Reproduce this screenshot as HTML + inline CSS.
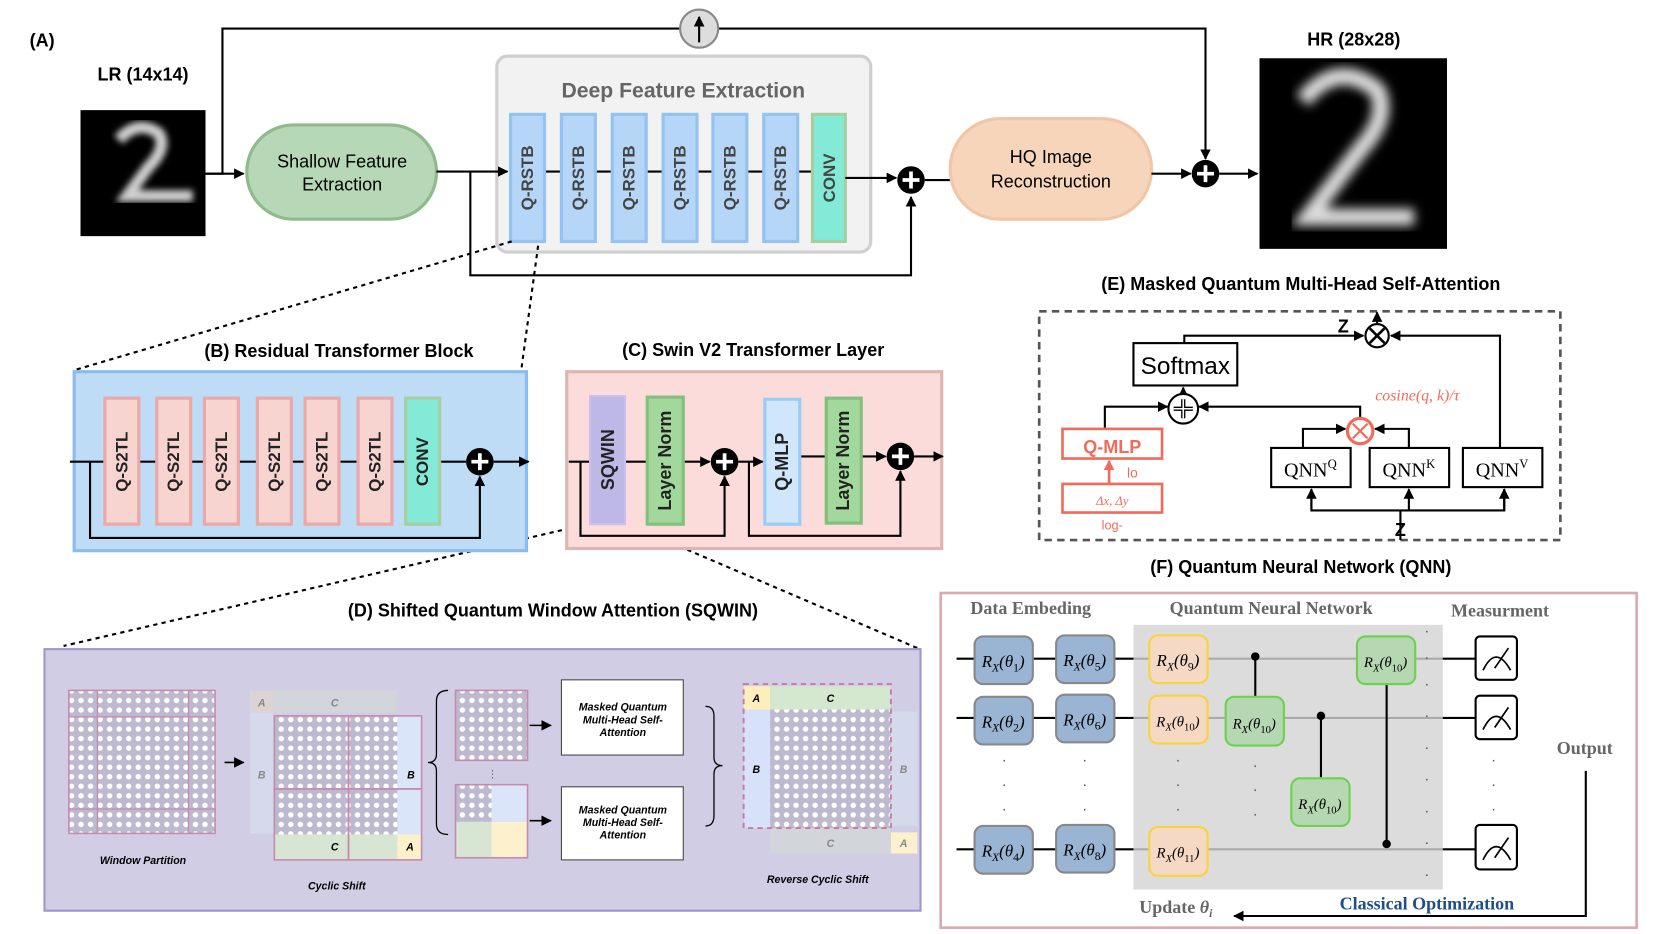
<!DOCTYPE html>
<html><head><meta charset="utf-8"><style>
html,body{margin:0;padding:0;background:#fff;}
svg{display:block;font-family:"Liberation Sans",sans-serif;}
.b{font-weight:bold;}
.ser{font-family:"Liberation Serif",serif;}
</style></head><body>
<svg width="1661" height="934" viewBox="0 0 1568 882" preserveAspectRatio="none" xmlns="http://www.w3.org/2000/svg">
<defs>
<marker id="ar" markerWidth="10" markerHeight="10" refX="9" refY="5" orient="auto" markerUnits="userSpaceOnUse"><path d="M0,0 L10,5 L0,10 z" fill="#000"/></marker>
<marker id="arr" markerWidth="10" markerHeight="10" refX="9" refY="5" orient="auto" markerUnits="userSpaceOnUse"><path d="M0,0 L10,5 L0,10 z" fill="#f26b5a"/></marker>
<filter id="bl"><feGaussianBlur stdDeviation="5"/></filter>
<filter id="bl2"><feGaussianBlur stdDeviation="3"/></filter>
<pattern id="dots" width="9" height="9" patternUnits="userSpaceOnUse"><rect width="9" height="9" fill="#bdb9cf"/><circle cx="4.5" cy="4.5" r="2.6" fill="#fff"/></pattern>
</defs>

<!-- (A) -->
<text x="28" y="44" class="b" font-size="17">(A)</text>
<text x="135" y="76" class="b" font-size="17" text-anchor="middle">LR (14x14)</text>
<rect x="76" y="104" width="118" height="119" fill="#000"/>
<path d="M112,132 Q130,112 150,126 Q158,140 140,158 L120,185 L182,185" stroke="#cfcfcf" stroke-width="11" fill="none" filter="url(#bl2)"/>
<text x="1278" y="43" class="b" font-size="17" text-anchor="middle">HR (28x28)</text>
<rect x="1189" y="55" width="177" height="180" fill="#000"/>
<path d="M1230,95 Q1262,55 1300,85 Q1312,110 1285,140 L1235,205 L1335,205" stroke="#dcdcdc" stroke-width="16" fill="none" filter="url(#bl)"/>

<polyline points="194,164 210,164 210,27 1138,27 1138,150" fill="none" stroke="#000" stroke-width="2" marker-end="url(#ar)"/>
<circle cx="660" cy="27" r="18" fill="#ddd" stroke="#888" stroke-width="2"/>
<line x1="660" y1="40" x2="660" y2="16" stroke="#000" stroke-width="2" marker-end="url(#ar)"/>
<line x1="194" y1="164" x2="230" y2="164" stroke="#000" stroke-width="2" marker-end="url(#ar)"/>
<rect x="233" y="118" width="179" height="89" rx="44" fill="#b6d8b6" stroke="#8fba8c" stroke-width="3"/>
<text x="323" y="158" font-size="17" text-anchor="middle">Shallow Feature</text>
<text x="323" y="180" font-size="17" text-anchor="middle">Extraction</text>

<rect x="469" y="53" width="353" height="185" rx="10" fill="#f2f2f2" stroke="#cfcfcf" stroke-width="3"/>
<text x="645" y="92" class="b" font-size="20" fill="#666" text-anchor="middle">Deep Feature Extraction</text>
<line x1="412" y1="162" x2="479" y2="162" stroke="#000" stroke-width="2" marker-end="url(#ar)"/>
<polyline points="444,162 444,260 860,260 860,186" fill="none" stroke="#000" stroke-width="2" marker-end="url(#ar)"/>
<line x1="514" y1="162" x2="767" y2="162" stroke="#000" stroke-width="2"/>
<g font-size="16" class="b" fill="#444">
<rect x="482" y="108" width="32" height="120" fill="#b5d6f7" stroke="#93c3f2" stroke-width="3"/><text transform="translate(498,168) rotate(-90)" text-anchor="middle" dominant-baseline="central">Q-RSTB</text>
<rect x="530" y="108" width="32" height="120" fill="#b5d6f7" stroke="#93c3f2" stroke-width="3"/><text transform="translate(546,168) rotate(-90)" text-anchor="middle" dominant-baseline="central">Q-RSTB</text>
<rect x="578" y="108" width="32" height="120" fill="#b5d6f7" stroke="#93c3f2" stroke-width="3"/><text transform="translate(594,168) rotate(-90)" text-anchor="middle" dominant-baseline="central">Q-RSTB</text>
<rect x="626" y="108" width="32" height="120" fill="#b5d6f7" stroke="#93c3f2" stroke-width="3"/><text transform="translate(642,168) rotate(-90)" text-anchor="middle" dominant-baseline="central">Q-RSTB</text>
<rect x="673" y="108" width="32" height="120" fill="#b5d6f7" stroke="#93c3f2" stroke-width="3"/><text transform="translate(689,168) rotate(-90)" text-anchor="middle" dominant-baseline="central">Q-RSTB</text>
<rect x="721" y="108" width="32" height="120" fill="#b5d6f7" stroke="#93c3f2" stroke-width="3"/><text transform="translate(737,168) rotate(-90)" text-anchor="middle" dominant-baseline="central">Q-RSTB</text>
<rect x="767" y="108" width="31" height="120" fill="#84ead8" stroke="#a6cfa0" stroke-width="3"/><text transform="translate(783,168) rotate(-90)" text-anchor="middle" dominant-baseline="central">CONV</text>
</g>
<line x1="798" y1="168" x2="846" y2="168" stroke="#000" stroke-width="2" marker-end="url(#ar)"/>
<circle cx="860" cy="170" r="13" fill="#000"/><path d="M852,170 H868 M860,162 V178" stroke="#fff" stroke-width="3.5"/>
<line x1="873" y1="170" x2="897" y2="170" stroke="#000" stroke-width="2"/>
<rect x="897" y="112" width="190" height="95" rx="47" fill="#f6d5bb" stroke="#f0c6a6" stroke-width="3"/>
<text x="992" y="154" font-size="17" text-anchor="middle">HQ Image</text>
<text x="992" y="177" font-size="17" text-anchor="middle">Reconstruction</text>
<line x1="1087" y1="164" x2="1124" y2="164" stroke="#000" stroke-width="2" marker-end="url(#ar)"/>
<circle cx="1138" cy="164" r="13" fill="#000"/><path d="M1130,164 H1146 M1138,156 V172" stroke="#fff" stroke-width="3.5"/>
<line x1="1151" y1="164" x2="1187" y2="164" stroke="#000" stroke-width="2" marker-end="url(#ar)"/>

<!-- dashed zoom lines -->
<line x1="483" y1="228" x2="72" y2="349" stroke="#000" stroke-width="2" stroke-dasharray="4,4"/>
<line x1="508" y1="232" x2="492" y2="350" stroke="#000" stroke-width="2" stroke-dasharray="4,4"/>
<line x1="546" y1="497" x2="60" y2="610" stroke="#000" stroke-width="2" stroke-dasharray="4,4"/>
<line x1="590" y1="494" x2="866" y2="612" stroke="#000" stroke-width="2" stroke-dasharray="4,4"/>

<!-- (B) -->
<text x="320" y="337" class="b" font-size="17" text-anchor="middle">(B) Residual Transformer Block</text>
<rect x="70" y="351" width="427" height="169" fill="#bfdcf6" stroke="#8cbbef" stroke-width="3"/>
<line x1="66" y1="436" x2="440" y2="436" stroke="#000" stroke-width="2"/>
<line x1="466" y1="436" x2="499" y2="436" stroke="#000" stroke-width="2" marker-end="url(#ar)"/>
<polyline points="85,436 85,508 453,508 453,450" fill="none" stroke="#000" stroke-width="2" marker-end="url(#ar)"/>
<g font-size="16" class="b" fill="#222">
<rect x="99" y="376" width="32" height="119" fill="#f8d4d0" stroke="#eaa8a8" stroke-width="3"/><text transform="translate(115,436) rotate(-90)" text-anchor="middle" dominant-baseline="central">Q-S2TL</text>
<rect x="148" y="376" width="32" height="119" fill="#f8d4d0" stroke="#eaa8a8" stroke-width="3"/><text transform="translate(164,436) rotate(-90)" text-anchor="middle" dominant-baseline="central">Q-S2TL</text>
<rect x="193" y="376" width="32" height="119" fill="#f8d4d0" stroke="#eaa8a8" stroke-width="3"/><text transform="translate(209,436) rotate(-90)" text-anchor="middle" dominant-baseline="central">Q-S2TL</text>
<rect x="243" y="376" width="32" height="119" fill="#f8d4d0" stroke="#eaa8a8" stroke-width="3"/><text transform="translate(259,436) rotate(-90)" text-anchor="middle" dominant-baseline="central">Q-S2TL</text>
<rect x="288" y="376" width="32" height="119" fill="#f8d4d0" stroke="#eaa8a8" stroke-width="3"/><text transform="translate(304,436) rotate(-90)" text-anchor="middle" dominant-baseline="central">Q-S2TL</text>
<rect x="338" y="376" width="32" height="119" fill="#f8d4d0" stroke="#eaa8a8" stroke-width="3"/><text transform="translate(354,436) rotate(-90)" text-anchor="middle" dominant-baseline="central">Q-S2TL</text>
<rect x="383" y="376" width="32" height="119" fill="#84ead8" stroke="#a6cfa0" stroke-width="3"/><text transform="translate(399,436) rotate(-90)" text-anchor="middle" dominant-baseline="central">CONV</text>
</g>
<circle cx="453" cy="436" r="13" fill="#000"/><path d="M445,436 H461 M453,428 V444" stroke="#fff" stroke-width="3.5"/>

<!-- (C) -->
<text x="711" y="336" class="b" font-size="17" text-anchor="middle">(C) Swin V2 Transformer Layer</text>
<rect x="535" y="351" width="354" height="167" fill="#fbdcda" stroke="#dcb6b2" stroke-width="3"/>
<line x1="537" y1="436" x2="670" y2="436" stroke="#000" stroke-width="2" marker-end="url(#ar)"/>
<polyline points="548,436 548,506 684,506 684,450" fill="none" stroke="#000" stroke-width="2" marker-end="url(#ar)"/>
<line x1="697" y1="436" x2="720" y2="436" stroke="#000" stroke-width="2" marker-end="url(#ar)"/>
<polyline points="707,436 707,506 850,506 850,445" fill="none" stroke="#000" stroke-width="2" marker-end="url(#ar)"/>
<line x1="755" y1="431" x2="836" y2="431" stroke="#000" stroke-width="2" marker-end="url(#ar)"/>
<line x1="863" y1="431" x2="890" y2="431" stroke="#000" stroke-width="2" marker-end="url(#ar)"/>
<g font-size="17" class="b" fill="#222">
<rect x="557" y="374" width="33" height="121" fill="#bdb8e6" stroke="#cbbff0" stroke-width="2"/><text transform="translate(574,434) rotate(-90)" text-anchor="middle" dominant-baseline="central">SQWIN</text>
<rect x="611" y="375" width="34" height="120" fill="#a3d89d" stroke="#84bf7e" stroke-width="3"/><text transform="translate(628,435) rotate(-90)" text-anchor="middle" dominant-baseline="central">Layer Norm</text>
<rect x="722" y="377" width="33" height="118" fill="#cfe6fb" stroke="#9ccbf5" stroke-width="3"/><text transform="translate(738,436) rotate(-90)" text-anchor="middle" dominant-baseline="central">Q-MLP</text>
<rect x="780" y="376" width="33" height="118" fill="#a3d89d" stroke="#84bf7e" stroke-width="3"/><text transform="translate(796,435) rotate(-90)" text-anchor="middle" dominant-baseline="central">Layer Norm</text>
</g>
<circle cx="684" cy="436" r="13" fill="#000"/><path d="M676,436 H692 M684,428 V444" stroke="#fff" stroke-width="3.5"/>
<circle cx="850" cy="431" r="13" fill="#000"/><path d="M842,431 H858 M850,423 V439" stroke="#fff" stroke-width="3.5"/>

<!-- (D) -->
<text x="522" y="582" class="b" font-size="17" text-anchor="middle">(D) Shifted Quantum Window Attention (SQWIN)</text>
<rect x="42" y="613" width="827" height="247" fill="#d0cde4" stroke="#9e98ca" stroke-width="2"/>
<rect x="65" y="652" width="138" height="135" fill="url(#dots)" stroke="#c78aae" stroke-width="1.5"/>
<path d="M92,652 V787 M178,652 V787 M65,677 H203 M65,764 H203" stroke="#c78aae" stroke-width="1.2" fill="none"/>
<text x="135" y="816" font-size="10" font-style="italic" class="b" text-anchor="middle">Window Partition</text>
<line x1="212" y1="720" x2="230" y2="720" stroke="#000" stroke-width="1.5" marker-end="url(#ar)"/>
<rect x="236" y="652" width="22" height="21" fill="#ddd3d3"/><text x="247" y="667" font-size="10" class="b" font-style="italic" fill="#888" text-anchor="middle">A</text>
<rect x="258" y="652" width="117" height="21" fill="#d2d5da"/><text x="316" y="667" font-size="10" class="b" font-style="italic" fill="#888" text-anchor="middle">C</text>
<rect x="236" y="673" width="22" height="114" fill="#d5d9ec"/><text x="247" y="735" font-size="10" class="b" font-style="italic" fill="#888" text-anchor="middle">B</text>
<rect x="259" y="676" width="139" height="136" fill="url(#dots)"/>
<rect x="375" y="676" width="23" height="112" fill="#dbe5fa"/>
<rect x="259" y="788" width="116" height="24" fill="#d6e6d3"/>
<rect x="375" y="788" width="23" height="24" fill="#fdf0cc"/>
<rect x="259" y="676" width="70" height="69" fill="none" stroke="#c78aae" stroke-width="1.5"/>
<rect x="329" y="676" width="69" height="69" fill="none" stroke="#c78aae" stroke-width="1.5"/>
<rect x="259" y="745" width="70" height="67" fill="none" stroke="#c78aae" stroke-width="1.5"/>
<rect x="329" y="745" width="69" height="67" fill="none" stroke="#c78aae" stroke-width="1.5"/>
<text x="388" y="735" font-size="10" class="b" font-style="italic" text-anchor="middle">B</text>
<text x="316" y="803" font-size="10" class="b" font-style="italic" text-anchor="middle">C</text>
<text x="387" y="803" font-size="10" class="b" font-style="italic" text-anchor="middle">A</text>
<text x="318" y="840" font-size="10" font-style="italic" class="b" text-anchor="middle">Cyclic Shift</text>
<path d="M423,652 Q412,652 412,662 V712 Q412,720 404,720 Q412,720 412,728 V778 Q412,788 423,788" fill="none" stroke="#000" stroke-width="1.2"/>
<rect x="430" y="652" width="68" height="66" fill="url(#dots)" stroke="#c78aae" stroke-width="1.5"/>
<text x="465" y="734" font-size="10" text-anchor="middle" fill="#666">⋮</text>
<rect x="430" y="741" width="68" height="69" fill="url(#dots)"/>
<rect x="464" y="741" width="34" height="35" fill="#dbe5fa"/>
<rect x="430" y="776" width="34" height="34" fill="#d6e6d3"/>
<rect x="464" y="776" width="34" height="34" fill="#fdf0cc"/>
<rect x="430" y="741" width="68" height="69" fill="none" stroke="#c78aae" stroke-width="1.5"/>
<line x1="500" y1="685" x2="520" y2="685" stroke="#000" stroke-width="1.5" marker-end="url(#ar)"/>
<line x1="500" y1="775" x2="520" y2="775" stroke="#000" stroke-width="1.5" marker-end="url(#ar)"/>
<rect x="530" y="642" width="115" height="71" fill="#fff" stroke="#444" stroke-width="1"/>
<g font-size="10" class="b" font-style="italic" text-anchor="middle"><text x="588" y="671">Masked Quantum</text><text x="588" y="683">Multi-Head Self-</text><text x="588" y="695">Attention</text></g>
<rect x="530" y="743" width="115" height="69" fill="#fff" stroke="#444" stroke-width="1"/>
<g font-size="10" class="b" font-style="italic" text-anchor="middle"><text x="588" y="768">Masked Quantum</text><text x="588" y="780">Multi-Head Self-</text><text x="588" y="792">Attention</text></g>
<path d="M666,667 Q674,667 674,676 V715 Q674,723 682,723 Q674,723 674,731 V770 Q674,780 666,780" fill="none" stroke="#000" stroke-width="1.2"/>
<rect x="702" y="670" width="139" height="112" fill="url(#dots)"/>
<rect x="702" y="648" width="25" height="22" fill="#fdeebb"/><text x="714" y="663" font-size="10" class="b" font-style="italic" text-anchor="middle">A</text>
<rect x="727" y="648" width="114" height="22" fill="#d4e7cf"/><text x="784" y="663" font-size="10" class="b" font-style="italic" text-anchor="middle">C</text>
<rect x="702" y="670" width="25" height="112" fill="#d7e2fa"/><text x="714" y="730" font-size="10" class="b" font-style="italic" text-anchor="middle">B</text>
<rect x="841" y="672" width="25" height="108" fill="#d5d9ec"/><text x="853" y="730" font-size="10" class="b" font-style="italic" fill="#888" text-anchor="middle">B</text>
<rect x="727" y="782" width="114" height="24" fill="#d2d5da"/><text x="784" y="800" font-size="10" class="b" font-style="italic" fill="#888" text-anchor="middle">C</text>
<rect x="841" y="786" width="25" height="20" fill="#fdf0cc"/><text x="853" y="800" font-size="10" class="b" font-style="italic" fill="#888" text-anchor="middle">A</text>
<rect x="702" y="646" width="139" height="136" fill="none" stroke="#c77aa6" stroke-width="1.8" stroke-dasharray="5,4"/>
<text x="772" y="834" font-size="10" font-style="italic" class="b" text-anchor="middle">Reverse Cyclic Shift</text>

<!-- (E) -->
<text x="1228" y="274" class="b" font-size="17" text-anchor="middle">(E) Masked Quantum Multi-Head Self-Attention</text>
<rect x="981" y="294" width="492" height="216" fill="none" stroke="#555" stroke-width="2.5" stroke-dasharray="7,5"/>
<rect x="1070" y="324" width="98" height="40" fill="#fff" stroke="#000" stroke-width="2"/>
<text x="1119" y="353" font-size="23" text-anchor="middle">Softmax</text>
<polyline points="1118,324 1118,317 1287,317" fill="none" stroke="#000" stroke-width="2" marker-end="url(#ar)"/>
<polyline points="1416,423 1416,317 1313,317" fill="none" stroke="#000" stroke-width="2" marker-end="url(#ar)"/>
<circle cx="1300" cy="317" r="11" fill="#fff" stroke="#000" stroke-width="2"/><path d="M1293,310 L1307,324 M1307,310 L1293,324" stroke="#000" stroke-width="2.5"/>
<line x1="1300" y1="305" x2="1300" y2="295" stroke="#000" stroke-width="2" marker-end="url(#ar)"/>
<text x="1268" y="314" class="b" font-size="17" text-anchor="middle">Z</text>
<line x1="1117" y1="373" x2="1117" y2="366" stroke="#000" stroke-width="2" marker-end="url(#ar)"/>
<circle cx="1117" cy="386" r="14" fill="#fff" stroke="#000" stroke-width="2"/><path d="M1108,386 H1126 M1117,377 V395" stroke="#000" stroke-width="4"/><path d="M1108,386 H1126 M1117,377 V395" stroke="#fff" stroke-width="1.5"/>
<polyline points="1043,405 1043,384 1102,384" fill="none" stroke="#000" stroke-width="2" marker-end="url(#ar)"/>
<polyline points="1284,396 1284,384 1132,384" fill="none" stroke="#000" stroke-width="2" marker-end="url(#ar)"/>
<rect x="1003" y="405" width="94" height="28" fill="#fff" stroke="#f26b5a" stroke-width="2.5"/>
<text x="1050" y="428" class="b" font-size="17" fill="#f26b5a" text-anchor="middle">Q-MLP</text>
<line x1="1047" y1="457" x2="1047" y2="435" stroke="#f26b5a" stroke-width="2.5" marker-end="url(#arr)"/>
<text x="1069" y="451" font-size="13" fill="#f26b5a" text-anchor="middle">lo</text>
<rect x="1003" y="457" width="94" height="27" fill="#fff" stroke="#f26b5a" stroke-width="2.5"/>
<text x="1050" y="477" class="ser" font-size="12" font-style="italic" fill="#f26b5a" text-anchor="middle">Δx, Δy</text>
<text x="1050" y="500" font-size="12" fill="#f26b5a" text-anchor="middle">log-</text>
<text x="1338" y="378" class="ser" font-size="15" font-style="italic" fill="#f26b5a" text-anchor="middle">cosine(q, k)/τ</text>
<circle cx="1284" cy="407" r="12" fill="#fff" stroke="#f26b5a" stroke-width="3"/><path d="M1277,400 L1291,414 M1291,400 L1277,414" stroke="#f26b5a" stroke-width="2"/>
<polyline points="1230,423 1230,405 1270,405" fill="none" stroke="#000" stroke-width="2" marker-end="url(#ar)"/>
<polyline points="1330,423 1330,405 1298,405" fill="none" stroke="#000" stroke-width="2" marker-end="url(#ar)"/>
<g class="ser" font-size="19" text-anchor="middle">
<rect x="1200" y="423" width="75" height="37" fill="#fff" stroke="#000" stroke-width="2"/><text x="1237" y="450">QNN<tspan font-size="12" dy="-8">Q</tspan></text>
<rect x="1293" y="423" width="75" height="37" fill="#fff" stroke="#000" stroke-width="2"/><text x="1330" y="450">QNN<tspan font-size="12" dy="-8">K</tspan></text>
<rect x="1381" y="423" width="75" height="37" fill="#fff" stroke="#000" stroke-width="2"/><text x="1418" y="450">QNN<tspan font-size="12" dy="-8">V</tspan></text>
</g>
<polyline points="1238,462 1238,482 1420,482 1420,462" fill="none" stroke="#000" stroke-width="2"/>
<line x1="1238" y1="482" x2="1238" y2="462" stroke="#000" stroke-width="2" marker-end="url(#ar)"/>
<line x1="1330" y1="482" x2="1330" y2="462" stroke="#000" stroke-width="2" marker-end="url(#ar)"/>
<line x1="1420" y1="482" x2="1420" y2="462" stroke="#000" stroke-width="2" marker-end="url(#ar)"/>
<line x1="1322" y1="510" x2="1322" y2="482" stroke="#000" stroke-width="2"/>
<text x="1322" y="506" class="b" font-size="17" text-anchor="middle">Z</text>

<!-- (F) -->
<text x="1228" y="541" class="b" font-size="17" text-anchor="middle">(F) Quantum Neural Network (QNN)</text>
<rect x="888" y="560" width="657" height="316" fill="#fff" stroke="#d8aab2" stroke-width="2.5"/>
<rect x="1070" y="590" width="292" height="250" fill="#dcdcdc"/>
<g class="ser b" font-size="17" fill="#666">
<text x="973" y="580" text-anchor="middle">Data Embeding</text>
<text x="1200" y="580" text-anchor="middle">Quantum Neural Network</text>
<text x="1416" y="582" text-anchor="middle">Measurment</text>
<text x="1496" y="712" text-anchor="middle">Output</text>
<text x="1110" y="862" text-anchor="middle">Update <tspan font-style="italic">θ<tspan font-size="11" dy="4">i</tspan></tspan></text>
</g>
<text x="1347" y="859" class="ser b" font-size="17" fill="#1f4e8c" text-anchor="middle">Classical  Optimization</text>
<polyline points="1497,728 1497,865 1165,865" fill="none" stroke="#000" stroke-width="2" marker-end="url(#ar)"/>
<g stroke-width="2">
<line x1="903" y1="622" x2="1070" y2="622" stroke="#000"/><line x1="1070" y1="622" x2="1362" y2="622" stroke="#aaa"/><line x1="1362" y1="622" x2="1393" y2="622" stroke="#000"/>
<line x1="903" y1="678" x2="1070" y2="678" stroke="#000"/><line x1="1070" y1="678" x2="1362" y2="678" stroke="#aaa"/><line x1="1362" y1="678" x2="1393" y2="678" stroke="#000"/>
<line x1="903" y1="802" x2="1070" y2="802" stroke="#000"/><line x1="1070" y1="802" x2="1362" y2="802" stroke="#aaa"/><line x1="1362" y1="802" x2="1393" y2="802" stroke="#000"/>
</g>
<line x1="1185" y1="620" x2="1185" y2="660" stroke="#000" stroke-width="2"/><circle cx="1185" cy="620" r="4"/>
<line x1="1247" y1="676" x2="1247" y2="734" stroke="#000" stroke-width="2"/><circle cx="1247" cy="676" r="4"/>
<line x1="1309" y1="640" x2="1309" y2="797" stroke="#000" stroke-width="2"/><circle cx="1309" cy="797" r="4"/>
<g font-size="16" class="ser" text-anchor="middle" font-style="italic">
<rect x="920" y="601" width="55" height="45" rx="8" fill="#9ab4d4" stroke="#888" stroke-width="2"/><text x="947" y="630">R<tspan font-size="11" dy="4">X</tspan><tspan dy="-4">(θ</tspan><tspan font-size="11" dy="4" font-style="normal">1</tspan><tspan dy="-4">)</tspan></text>
<rect x="997" y="600" width="55" height="45" rx="8" fill="#9ab4d4" stroke="#888" stroke-width="2"/><text x="1024" y="629">R<tspan font-size="11" dy="4">X</tspan><tspan dy="-4">(θ</tspan><tspan font-size="11" dy="4" font-style="normal">5</tspan><tspan dy="-4">)</tspan></text>
<rect x="920" y="658" width="55" height="45" rx="8" fill="#9ab4d4" stroke="#888" stroke-width="2"/><text x="947" y="687">R<tspan font-size="11" dy="4">X</tspan><tspan dy="-4">(θ</tspan><tspan font-size="11" dy="4" font-style="normal">2</tspan><tspan dy="-4">)</tspan></text>
<rect x="997" y="656" width="55" height="45" rx="8" fill="#9ab4d4" stroke="#888" stroke-width="2"/><text x="1024" y="685">R<tspan font-size="11" dy="4">X</tspan><tspan dy="-4">(θ</tspan><tspan font-size="11" dy="4" font-style="normal">6</tspan><tspan dy="-4">)</tspan></text>
<rect x="920" y="780" width="55" height="45" rx="8" fill="#9ab4d4" stroke="#888" stroke-width="2"/><text x="947" y="809">R<tspan font-size="11" dy="4">X</tspan><tspan dy="-4">(θ</tspan><tspan font-size="11" dy="4" font-style="normal">4</tspan><tspan dy="-4">)</tspan></text>
<rect x="997" y="779" width="55" height="45" rx="8" fill="#9ab4d4" stroke="#888" stroke-width="2"/><text x="1024" y="808">R<tspan font-size="11" dy="4">X</tspan><tspan dy="-4">(θ</tspan><tspan font-size="11" dy="4" font-style="normal">8</tspan><tspan dy="-4">)</tspan></text>
<rect x="1085" y="600" width="55" height="45" rx="8" fill="#f6d9c4" stroke="#f8d43c" stroke-width="2"/><text x="1112" y="629">R<tspan font-size="11" dy="4">X</tspan><tspan dy="-4">(θ</tspan><tspan font-size="11" dy="4" font-style="normal">9</tspan><tspan dy="-4">)</tspan></text>
<rect x="1085" y="657" width="55" height="45" rx="8" fill="#f6d9c4" stroke="#f8d43c" stroke-width="2"/><text x="1112" y="686" font-size="14">R<tspan font-size="10" dy="4">X</tspan><tspan dy="-4">(θ</tspan><tspan font-size="10" dy="4" font-style="normal">10</tspan><tspan dy="-4">)</tspan></text>
<rect x="1085" y="781" width="55" height="46" rx="8" fill="#f6d9c4" stroke="#f8d43c" stroke-width="2"/><text x="1112" y="810" font-size="14">R<tspan font-size="10" dy="4">X</tspan><tspan dy="-4">(θ</tspan><tspan font-size="10" dy="4" font-style="normal">11</tspan><tspan dy="-4">)</tspan></text>
<rect x="1157" y="658" width="55" height="46" rx="8" fill="#b5d8b2" stroke="#6cd24e" stroke-width="2"/><text x="1184" y="688" font-size="14">R<tspan font-size="10" dy="4">X</tspan><tspan dy="-4">(θ</tspan><tspan font-size="10" dy="4" font-style="normal">10</tspan><tspan dy="-4">)</tspan></text>
<rect x="1219" y="735" width="55" height="45" rx="8" fill="#b5d8b2" stroke="#6cd24e" stroke-width="2"/><text x="1246" y="764" font-size="14">R<tspan font-size="10" dy="4">X</tspan><tspan dy="-4">(θ</tspan><tspan font-size="10" dy="4" font-style="normal">10</tspan><tspan dy="-4">)</tspan></text>
<rect x="1281" y="601" width="55" height="45" rx="8" fill="#b5d8b2" stroke="#6cd24e" stroke-width="2"/><text x="1308" y="630" font-size="14">R<tspan font-size="10" dy="4">X</tspan><tspan dy="-4">(θ</tspan><tspan font-size="10" dy="4" font-style="normal">10</tspan><tspan dy="-4">)</tspan></text>
</g>
<g fill="#555" font-size="14" text-anchor="middle">
<text x="948" y="722">·</text><text x="948" y="745">·</text><text x="948" y="768">·</text>
<text x="1024" y="722">·</text><text x="1024" y="745">·</text><text x="1024" y="768">·</text>
<text x="1112" y="722">·</text><text x="1112" y="745">·</text><text x="1112" y="768">·</text>
<text x="1185" y="727">·</text><text x="1185" y="750">·</text><text x="1185" y="773">·</text>
<text x="1410" y="722">·</text><text x="1410" y="745">·</text><text x="1410" y="768">·</text>
<text x="1347" y="600">·</text><text x="1347" y="625">·</text><text x="1347" y="650">·</text><text x="1347" y="680">·</text><text x="1347" y="710">·</text><text x="1347" y="740">·</text><text x="1347" y="770">·</text><text x="1347" y="800">·</text><text x="1347" y="830">·</text>
</g>
<g fill="#fff" stroke="#000" stroke-width="2">
<rect x="1393" y="601" width="39" height="41" rx="4"/><rect x="1393" y="657" width="39" height="41" rx="4"/><rect x="1393" y="779" width="39" height="42" rx="4"/>
</g>
<g fill="none" stroke="#000" stroke-width="1.6">
<path d="M1400,633 Q1412,608 1426,633 M1411,631 L1424,612"/>
<path d="M1400,689 Q1412,664 1426,689 M1411,687 L1424,668"/>
<path d="M1400,812 Q1412,787 1426,812 M1411,810 L1424,791"/>
</g>
</svg>
</body></html>
